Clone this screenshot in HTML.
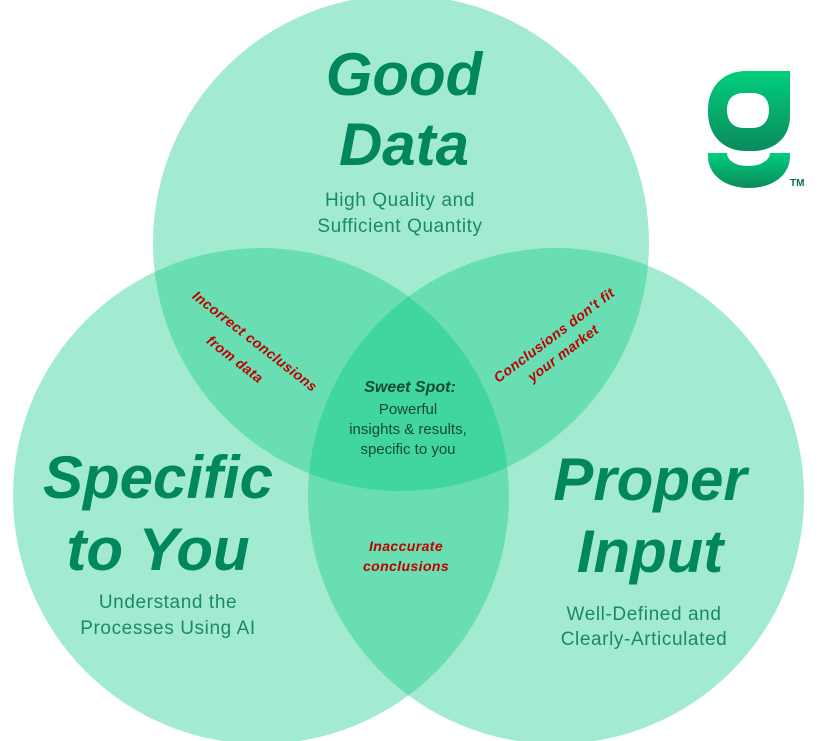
<!DOCTYPE html>
<html><head><meta charset="utf-8"><style>
html,body{margin:0;padding:0;background:#fff;}
svg{display:block;}
</style></head><body>
<svg width="820" height="741" viewBox="0 0 820 741" xmlns="http://www.w3.org/2000/svg">
<defs>
<linearGradient id="lg" x1="0" y1="0" x2="0" y2="1">
<stop offset="0" stop-color="#00cf7c"/><stop offset="1" stop-color="#0b8a5c"/>
</linearGradient>
</defs>
<g fill="rgb(0,200,125)" fill-opacity="0.36">
<circle cx="401" cy="243" r="248"/>
<circle cx="261" cy="496" r="248"/>
<circle cx="556" cy="496" r="248"/>
</g>
<!-- logo -->
<g fill="url(#lg)">
<path fill-rule="evenodd" d="M746 71 L790 71 L790 116 C790 138 774 151 752 151 L746 151 C724 151 708 136 708 112 L708 110 C708 86 724 71 746 71 Z M744 93 C733 93 727 99 727 110 C727 121 733 128 744 128 L752 128 C763 128 769 121 769 110 C769 99 763 93 752 93 Z"/>
<path d="M708 153 L727 153 C727 160 735 166 748 166 C761 166 770 160 770 153 L790 153 L790 156 C790 175 773 188 749 188 C725 188 708 175 708 156 Z"/>
</g>
<text x="790" y="186" font-family="Liberation Sans, sans-serif" font-weight="bold" font-size="10" fill="#0b6e4c">TM</text>
<g font-family="Liberation Sans, sans-serif" fill="#00875e" text-anchor="middle">
<g font-weight="bold" font-style="italic" font-size="60">
<text x="404" y="95">Good</text>
<text x="404" y="165">Data</text>
<text x="158" y="498">Specific</text>
<text x="158" y="570">to You</text>
<text x="650" y="500">Proper</text>
<text x="650" y="572">Input</text>
</g>
<g font-size="19" letter-spacing="0.6" fill="#1a8a63">
<text x="400" y="206">High Quality and</text>
<text x="400" y="232">Sufficient Quantity</text>
<text x="168" y="608">Understand the</text>
<text x="168" y="634">Processes Using AI</text>
<text x="644" y="620">Well-Defined and</text>
<text x="644" y="645">Clearly-Articulated</text>
</g>
</g>
<g font-family="Liberation Sans, sans-serif" text-anchor="middle" fill="#134a37">
<text x="410" y="392" font-weight="bold" font-style="italic" font-size="16">Sweet Spot:</text>
<g font-size="15">
<text x="408" y="414">Powerful</text>
<text x="408" y="434">insights &amp; results,</text>
<text x="408" y="454">specific to you</text>
</g>
</g>
<g font-family="Liberation Sans, sans-serif" text-anchor="middle" fill="#c00000" font-weight="bold" font-style="italic" font-size="14" letter-spacing="0.4">
<text transform="translate(252,345) rotate(38)">Incorrect conclusions</text>
<text transform="translate(232,363) rotate(38)">from data</text>
<text transform="translate(557,339) rotate(-37)">Conclusions don't fit</text>
<text transform="translate(566,357) rotate(-37)">your market</text>
<text x="406" y="551">Inaccurate</text>
<text x="406" y="571">conclusions</text>
</g>
</svg>
</body></html>
